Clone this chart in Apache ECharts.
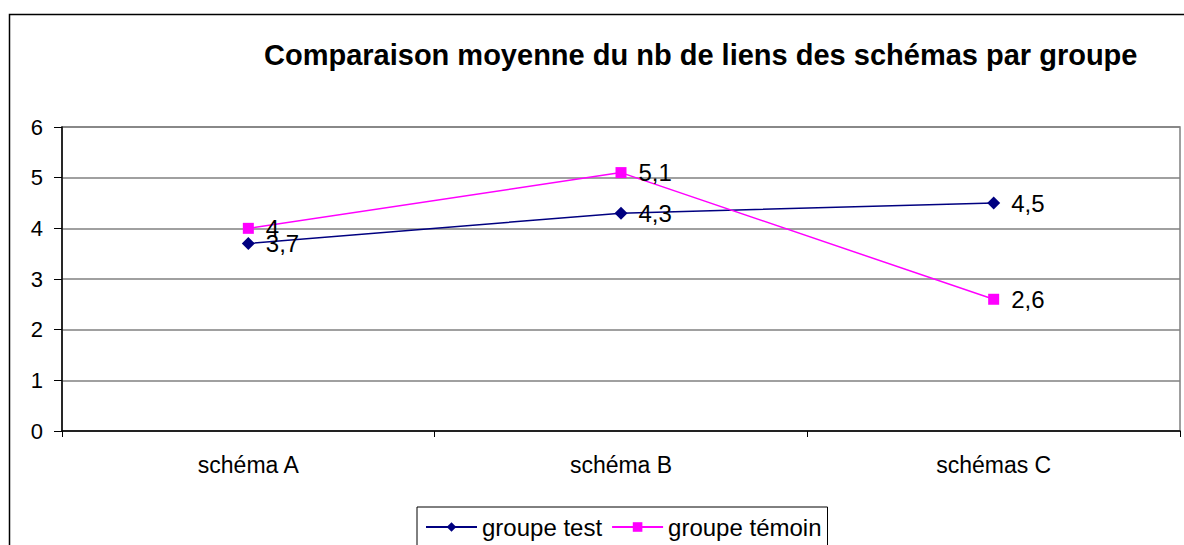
<!DOCTYPE html>
<html>
<head>
    <meta charset="utf-8">
    <title>Comparaison moyenne</title>
    <script src="https://cdn.jsdelivr.net/npm/echarts@6/dist/echarts.min.js"></script>
    <style>
        html, body { margin: 0; padding: 0; background: #fff; }
    </style>
</head>
<body>
<div id="main" style="width: 1184px;height:545px;"></div>
<script type="text/javascript">
    var categories = ['schéma A', 'schéma B', 'schémas C'];
    var groupeTest = [3.7, 4.3, 4.5];
    var groupeTemoin = [4, 5.1, 2.6];

    var myChart = echarts.init(document.getElementById('main'), null, {renderer: 'svg'});

    var fontFamily = '"Liberation Sans", Arial, sans-serif';

    // valeurs avec virgule décimale
    function virgule(p) {
        return String(p.value).replace('.', ',');
    }

    var option = {
        animation: false,
        textStyle: {fontFamily: fontFamily},
        title: {
            text: 'Comparaison moyenne du nb de liens des schémas par groupe',
            left: 259,
            top: 35,
            textStyle: {fontSize: 29, fontWeight: 'bold', color: '#000', fontFamily: fontFamily}
        },
        graphic: [{
            type: 'rect',
            shape: {x: 9.5, y: 14.5, width: 1300, height: 700},
            style: {fill: null, stroke: '#000', lineWidth: 1.5},
            silent: true
        }],
        legend: {
            left: 417,
            top: 507,
            itemWidth: 51,
            itemHeight: 12,
            itemGap: 9,
            padding: [8, 6, 8, 8],
            borderColor: '#000',
            borderWidth: 1,
            textStyle: {fontSize: 24, color: '#000', fontFamily: fontFamily},
            data: ['groupe test', 'groupe témoin']
        },
        grid: {
            left: 62,
            top: 127,
            right: 4,
            bottom: 114,
            show: true,
            borderColor: '#808080',
            borderWidth: 1.5
        },
        xAxis: {
            type: 'category',
            data: categories,
            boundaryGap: true,
            axisLine: {lineStyle: {color: '#000', width: 1.5}},
            axisTick: {show: true, length: 6, lineStyle: {color: '#000'}},
            axisLabel: {fontSize: 23, color: '#000', margin: 22, fontFamily: fontFamily}
        },
        yAxis: {
            type: 'value',
            min: 0,
            max: 6,
            interval: 1,
            axisLine: {show: true, lineStyle: {color: '#000', width: 1.5}},
            axisTick: {show: true, length: 8, lineStyle: {color: '#000'}},
            axisLabel: {fontSize: 22, color: '#000', margin: 19, fontFamily: fontFamily},
            splitLine: {show: true, lineStyle: {color: '#808080', width: 1.5}}
        },
        series: [
            {
                name: 'groupe test',
                type: 'line',
                data: groupeTest,
                symbol: 'diamond',
                symbolSize: 13,
                color: '#000080',
                lineStyle: {width: 1.5, color: '#000080'},
                itemStyle: {color: '#000080'},
                label: {
                    show: true,
                    position: 'right',
                    distance: 11,
                    fontSize: 24,
                    color: '#000',
                    fontFamily: fontFamily,
                    formatter: virgule
                }
            },
            {
                name: 'groupe témoin',
                type: 'line',
                data: groupeTemoin,
                symbol: 'rect',
                symbolSize: 11,
                color: '#FF00FF',
                lineStyle: {width: 1.5, color: '#FF00FF'},
                itemStyle: {color: '#FF00FF'},
                label: {
                    show: true,
                    position: 'right',
                    distance: 12,
                    fontSize: 24,
                    color: '#000',
                    fontFamily: fontFamily,
                    formatter: virgule
                }
            }
        ]
    };

    myChart.setOption(option);
</script>
</body>
</html>
